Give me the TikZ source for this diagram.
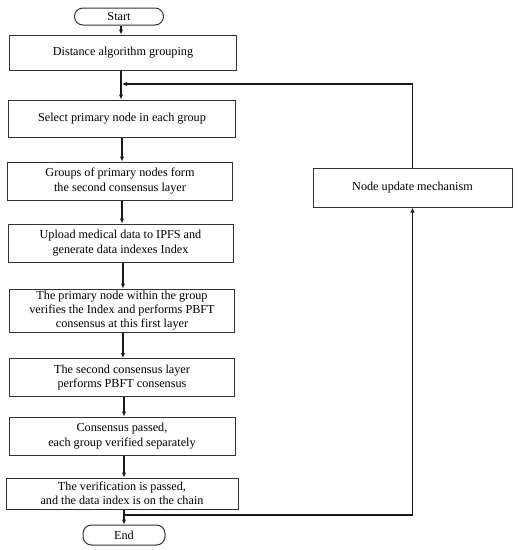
\documentclass[tikz,border=0pt]{standalone}
\usepackage{fontspec}
\setmainfont{Liberation Serif}
\usetikzlibrary{arrows.meta}
\begin{document}
\begin{tikzpicture}[x=1pt,y=-1pt,
  box/.style={draw=black!80, line width=1pt, align=center, inner sep=1pt,
    font=\fontsize{12.2}{14.3}\selectfont},
  term/.style={box, rounded corners=8.5pt},
  flow/.style={draw=black!90, line width=1.1pt, -{Latex[length=5pt,width=4.5pt]}},
  plain/.style={draw=black!90, line width=1.1pt}]
\useasboundingbox (0,0) rectangle (518,550);
\node[term, minimum width=89pt, minimum height=17pt] (start) at (119,16.5) {Start};
\node[box, minimum width=227pt, minimum height=35pt] (d1) at (123,52.5) {Distance algorithm grouping};
\node[box, minimum width=227pt, minimum height=37pt] (d2) at (122,118.5) {Select primary node in each group};
\node[box, minimum width=225pt, minimum height=38pt] (d3) at (120,181) {Groups of primary nodes form\\the second consensus layer};
\node[box, minimum width=225pt, minimum height=38pt] (d4) at (120.5,243) {Upload medical data to IPFS and\\generate data indexes Index};
\node[box, minimum width=225pt, minimum height=43pt] (d5) at (122,310.5) {The primary node within the group\\verifies the Index and performs PBFT\\consensus at this first layer};
\node[box, minimum width=225pt, minimum height=38pt] (d6) at (122,377.5) {The second consensus layer\\performs PBFT consensus};
\node[box, minimum width=226pt, minimum height=38pt] (d7) at (122,436) {Consensus passed,\\each group verified separately};
\node[box, minimum width=232pt, minimum height=31pt] (d8) at (122,493.5) {The verification is passed,\\and the data index is on the chain};
\node[term, minimum width=82pt, minimum height=20pt] (end) at (124,535) {End};
\node[box, minimum width=199pt, minimum height=39pt] (nu) at (412.5,187.5) {Node update mechanism};
\coordinate (j) at (122,84);
\coordinate (k) at (124,515);
\draw[flow] (start.south -| 121,0) -- (d1.north -| 121,0);
\draw[flow] (d1.south -| 121,0) -- (d2.north -| 121,0);
\draw[flow] (nu.north) |- (j);
\draw[flow] (d2.south -| 122,0) -- (d3.north -| 122,0);
\draw[flow] (d3.south -| 122,0) -- (d4.north -| 122,0);
\draw[flow] (d4.south -| 123,0) -- (d5.north -| 123,0);
\draw[flow] (d5.south -| 123,0) -- (d6.north -| 123,0);
\draw[flow] (d6.south -| 124,0) -- (d7.north -| 124,0);
\draw[flow] (d7.south -| 124,0) -- (d8.north -| 124,0);
\draw[flow] (d8.south -| 124,0) -- (end.north -| 124,0);
\draw[flow] (k) -| (nu.south);
\end{tikzpicture}
\end{document}
